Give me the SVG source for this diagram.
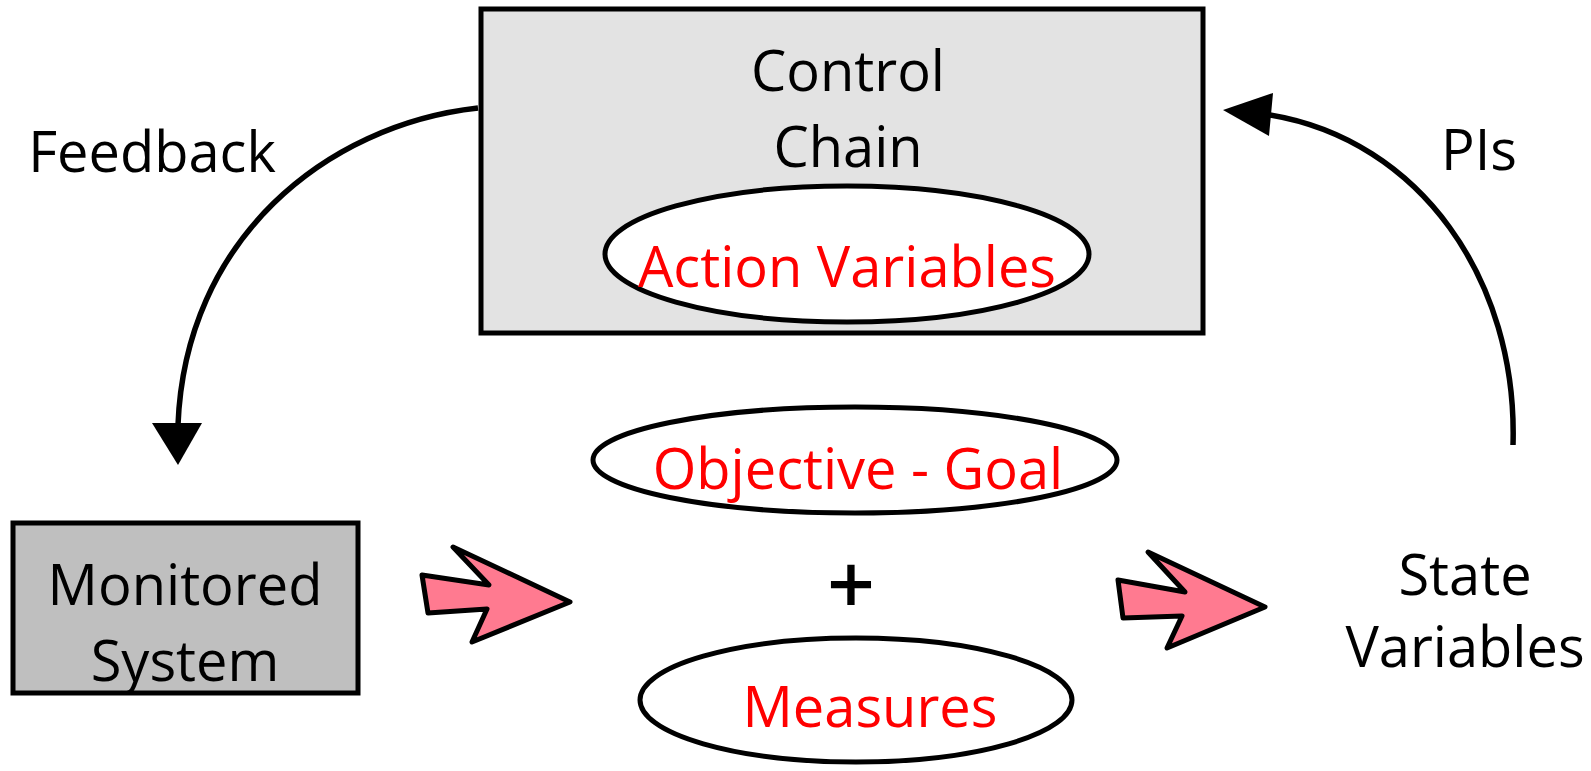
<svg xmlns="http://www.w3.org/2000/svg" width="1591" height="771" viewBox="0 0 1591 771">
<style>
.t{font-family:"Open Sans","Liberation Sans",sans-serif;font-size:56px;text-anchor:middle;fill:#000}
.r{fill:#ff0000}
.ell{fill:#fff;stroke:#000;stroke-width:5}
.box{stroke:#000;stroke-width:5}
.con{fill:none;stroke:#000;stroke-width:5.5}
.head{fill:#000}
.big{fill:#ff7a90;stroke:#000;stroke-width:5;stroke-linejoin:round}
</style>
<rect width="1591" height="771" fill="#fff"/>
<g id="control-chain">
<rect class="box" x="481" y="9" width="722" height="324" fill="#e3e3e3"/>
<text class="t" x="848" y="91">Control</text>
<text class="t" x="848" y="167">Chain</text>
</g>
<g id="action-variables">
<ellipse class="ell" cx="847" cy="254" rx="242" ry="68"/>
<text class="t r" x="847" y="287">Action Variables</text>
</g>
<g id="monitored-system">
<rect class="box" x="13" y="523" width="345" height="170" fill="#bfbfbf"/>
<text class="t" x="185" y="605">Monitored</text>
<text class="t" x="185" y="681">System</text>
</g>
<g id="objective-goal">
<ellipse class="ell" cx="855" cy="460" rx="262" ry="53"/>
<text class="t r" x="858" y="489">Objective - Goal</text>
</g>
<g id="plus">
<text class="t" x="851" y="614" style="font-size:84px;font-weight:600">+</text>
</g>
<g id="measures">
<ellipse class="ell" cx="856" cy="700" rx="216" ry="62"/>
<text class="t r" x="870" y="727">Measures</text>
</g>
<g id="state-variables">
<text class="t" x="1465" y="595">State</text>
<text class="t" x="1465" y="667">Variables</text>
</g>
<g id="feedback-label"><text class="t" x="152" y="172">Feedback</text></g>
<g id="pis-label"><text class="t" x="1479" y="170">PIs</text></g>
<g id="connectors">
<path class="con" d="M478,108 C325,125 185,240 178,425"/>
<polygon class="head" points="152,423 202,423 178,465"/>
<path class="con" d="M1513,445 C1518,280 1420,140 1270,115"/>
<polygon class="head" points="1273,93 1269,136 1223,110"/>
<polygon class="big" points="422,575 489,585 453,547 570,602 472,642 487,609 428,613"/>
<polygon class="big" points="1118,580 1185,592 1148,552 1265,607 1167,648 1182,616 1123,618"/>
</g>
</svg>
